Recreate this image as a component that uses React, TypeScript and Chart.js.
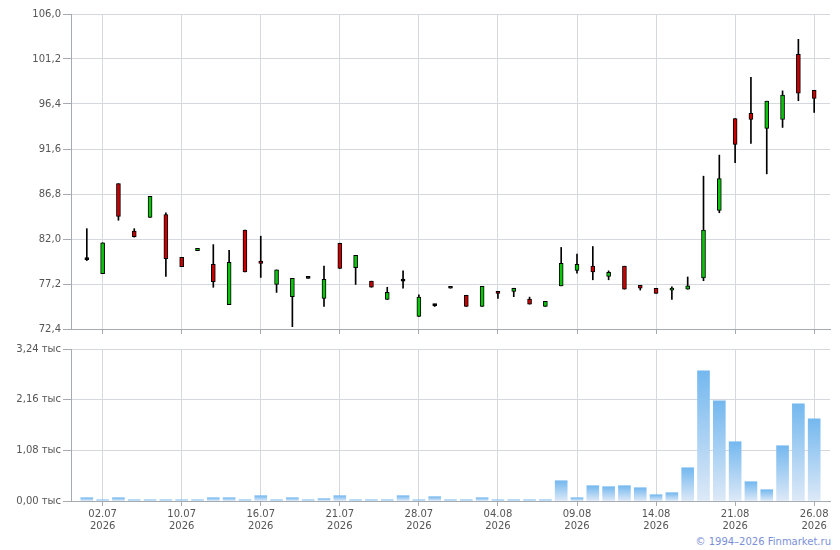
import React, { useEffect, useRef } from 'react';
import { Chart, registerables } from 'chart.js';

Chart.register(...registerables);

const dates = [
  '01.07', '02.07', '03.07', '06.07', '07.07', '08.07', '10.07', '11.07', '13.07', '14.07',
  '15.07', '16.07', '17.07', '18.07', '19.07', '20.07', '21.07', '22.07', '23.07', '24.07',
  '27.07', '28.07', '29.07', '30.07', '31.07', '03.08', '04.08', '05.08', '06.08', '07.08',
  '08.08', '09.08', '10.08', '11.08', '12.08', '13.08', '14.08', '17.08', '18.08', '19.08',
  '20.08', '21.08', '22.08', '23.08', '24.08', '25.08', '26.08',
];
const year = '2026';
const labelIdx = [1, 6, 11, 16, 21, 26, 31, 36, 41, 46];

const opens = [
  79.8, 78.3, 87.9, 82.85, 84.3, 84.6, 80.05, 80.75, 79.3, 75.0,
  82.95, 79.65, 77.15, 75.85, 77.8, 75.65, 81.55, 78.95, 77.5, 75.55,
  77.5, 73.75, 74.9, 76.75, 76.0, 74.8, 76.4, 76.4, 75.6, 74.8,
  77.0, 78.65, 79.1, 78.0, 79.1, 77.05, 76.75, 76.55, 76.65, 77.85,
  85.05, 94.85, 95.4, 93.8, 94.75, 101.7, 97.85,
];
const highs = [
  83.1, 81.6, 87.9, 83.1, 86.55, 84.8, 80.05, 81.0, 81.4, 80.8,
  82.95, 82.3, 78.7, 77.8, 77.8, 79.1, 81.55, 80.25, 77.5, 76.85,
  78.6, 76.05, 75.05, 76.75, 76.0, 76.95, 76.4, 76.75, 75.8, 75.35,
  81.1, 80.4, 81.2, 78.6, 79.1, 77.05, 76.75, 76.9, 77.95, 88.7,
  90.95, 94.85, 99.25, 96.7, 97.8, 103.3, 97.85,
];
const lows = [
  79.7, 78.3, 84.0, 82.2, 84.3, 78.0, 79.05, 80.75, 76.85, 75.0,
  78.5, 77.9, 76.3, 72.65, 77.8, 74.8, 78.85, 77.15, 76.85, 75.55,
  76.75, 73.75, 74.8, 76.75, 74.8, 74.8, 75.65, 75.85, 75.05, 74.8,
  77.0, 78.35, 77.65, 77.65, 76.65, 76.55, 76.2, 75.55, 76.65, 77.55,
  84.8, 90.15, 92.2, 88.95, 93.9, 96.75, 95.5,
];
const closes = [
  79.8, 81.6, 84.4, 82.25, 86.55, 79.9, 79.05, 81.0, 77.45, 79.5,
  78.5, 79.4, 78.7, 77.8, 77.8, 77.7, 78.85, 80.25, 76.85, 76.3,
  77.5, 75.8, 74.9, 76.75, 74.8, 76.95, 76.2, 76.75, 75.05, 75.35,
  79.4, 79.3, 78.5, 78.45, 76.65, 76.75, 76.2, 76.75, 77.0, 82.95,
  88.45, 92.1, 94.75, 96.7, 97.35, 97.55, 97.0,
];
const volumes = [
  70, 25, 70, 25, 25, 25, 25, 25, 70, 70,
  25, 113, 25, 70, 25, 49, 113, 25, 25, 25,
  113, 25, 92, 25, 25, 70, 25, 25, 25, 25,
  432, 70, 326, 305, 326, 283, 134, 177, 709, 2775,
  2136, 1263, 411, 241, 1178, 2072, 1753,
];

const priceTicks = [72.4, 77.2, 82.0, 86.8, 91.6, 96.4, 101.2, 106.0];
const volumeTicks = [0, 1080, 2160, 3240];

const font = { family: 'DejaVu Sans', size: 10 };
const gridColor = '#d5d9de';
const axisColor = '#a6aab1';
const textColor = '#555';

function xScale(showLabels: boolean) {
  return {
    type: 'linear' as const,
    min: -1,
    max: 47,
    offset: false,
    afterBuildTicks: (s: any) => {
      s.ticks = labelIdx.map((v) => ({ value: v }));
    },
    afterFit: (s: any) => {
      s.height = showLabels ? 29 : 11;
    },
    grid: { offset: false, color: gridColor, tickColor: axisColor, tickLength: 5 },
    border: { color: axisColor },
    ticks: {
      display: showLabels,
      autoSkip: false,
      maxRotation: 0,
      padding: 2,
      font,
      color: textColor,
      callback: (v: number) => [dates[v], year],
    },
  };
}

function candleColor(i: number) {
  if (closes[i] > opens[i]) return '#0cc40c';
  if (closes[i] < opens[i]) return '#c80000';
  return '#000';
}

function PriceChart() {
  const ref = useRef<HTMLCanvasElement | null>(null);
  useEffect(() => {
    if (!ref.current) return;
    const chart = new Chart(ref.current, {
      type: 'bar',
      data: {
        datasets: [
          {
            data: opens.map((o, i) => ({ x: i, y: [o, closes[i]] })) as any,
            backgroundColor: opens.map((_, i) => candleColor(i)),
            borderColor: '#000',
            borderWidth: 1,
            borderSkipped: false,
            barThickness: 4,
            minBarLength: 2,
            grouped: false,
          },
          {
            data: lows.map((l, i) => ({ x: i, y: [l, highs[i]] })) as any,
            backgroundColor: '#000',
            borderWidth: 0,
            barThickness: 1,
            grouped: false,
          },
        ],
      },
      options: {
        animation: false,
        responsive: false,
        layout: { padding: { top: 14, right: 10, left: 0, bottom: 0 } },
        plugins: { legend: { display: false }, tooltip: { enabled: false } },
        scales: {
          x: xScale(false) as any,
          y: {
            min: 72.4,
            max: 106,
            afterBuildTicks: (s: any) => {
              s.ticks = priceTicks.map((v) => ({ value: v }));
            },
            afterFit: (s: any) => {
              s.width = 71;
            },
            grid: { color: gridColor, tickColor: axisColor, tickLength: 8 },
            border: { color: axisColor },
            ticks: {
              padding: 2,
              font,
              color: textColor,
              callback: (v: any) => Number(v).toFixed(1).replace('.', ','),
            },
          },
        },
      },
    });
    return () => chart.destroy();
  }, []);
  return <canvas ref={ref} width={840} height={340} />;
}

function VolumeChart() {
  const ref = useRef<HTMLCanvasElement | null>(null);
  useEffect(() => {
    if (!ref.current) return;
    const chart = new Chart(ref.current, {
      type: 'bar',
      data: {
        datasets: [
          {
            data: volumes.map((v, i) => ({ x: i, y: v })),
            backgroundColor: (c: any) => {
              const top = '#74b8ef';
              if (c.type !== 'data') return top;
              const ch = c.chart;
              const ys = ch.scales.y;
              if (!ys || !ch.chartArea) return top;
              const y0 = ys.getPixelForValue(volumes[c.dataIndex]);
              const y1 = ys.getPixelForValue(0);
              if (!isFinite(y0) || !isFinite(y1) || y1 - y0 < 1) return top;
              const g = ch.ctx.createLinearGradient(0, y0, 0, y1);
              g.addColorStop(0, top);
              g.addColorStop(1, '#dde9f7');
              return g;
            },
            borderWidth: 0,
            barThickness: 12,
          },
        ],
      },
      options: {
        animation: false,
        responsive: false,
        layout: { padding: { top: 9, right: 10, left: 0, bottom: 0 } },
        plugins: { legend: { display: false }, tooltip: { enabled: false } },
        scales: {
          x: xScale(true) as any,
          y: {
            min: 0,
            max: 3240,
            afterBuildTicks: (s: any) => {
              s.ticks = volumeTicks.map((v) => ({ value: v }));
            },
            afterFit: (s: any) => {
              s.width = 71;
            },
            grid: { color: gridColor, tickColor: axisColor, tickLength: 8 },
            border: { color: axisColor },
            ticks: {
              padding: 2,
              font,
              color: textColor,
              callback: (v: any) => (Number(v) / 1000).toFixed(2).replace('.', ',') + ' тыс',
            },
          },
        },
      },
    });
    return () => chart.destroy();
  }, []);
  return <canvas ref={ref} width={840} height={190} />;
}

export default function App() {
  return (
    <div style={{ position: 'absolute', left: 0, top: 0, width: 840, height: 550, background: '#fff' }}>
      <div style={{ position: 'absolute', left: 0, top: 0 }}>
        <PriceChart />
      </div>
      <div style={{ position: 'absolute', left: 0, top: 340 }}>
        <VolumeChart />
      </div>
      <div
        style={{
          position: 'absolute',
          right: 9,
          top: 536,
          fontFamily: 'DejaVu Sans',
          fontSize: 10,
          lineHeight: '12px',
          color: '#7b8fd8',
          whiteSpace: 'nowrap',
        }}
      >
        © 1994–2026 Finmarket.ru
      </div>
    </div>
  );
}
